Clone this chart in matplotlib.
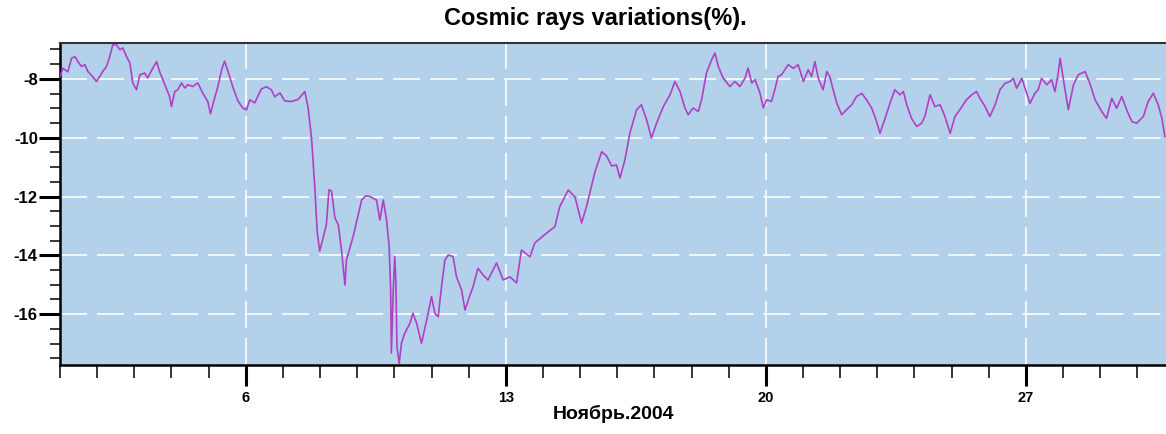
import matplotlib
matplotlib.use("Agg")
import matplotlib.pyplot as plt
from matplotlib.ticker import MultipleLocator

# Cosmic rays variations, November 2004 (day of month, percent)
days = [
    1.00, 1.08, 1.21, 1.31, 1.40, 1.48, 1.58, 1.67, 1.75, 1.88, 1.98, 2.07, 2.15, 2.25,
    2.34, 2.42, 2.52, 2.61, 2.69, 2.79, 2.88, 2.96, 3.06, 3.15, 3.28, 3.36, 3.50, 3.60,
    3.68, 3.77, 3.86, 3.95, 4.00, 4.09, 4.17, 4.27, 4.36, 4.44, 4.57, 4.71, 4.84, 4.98,
    5.05, 5.14, 5.25, 5.35, 5.43, 5.52, 5.66, 5.79, 5.92, 6.02, 6.11, 6.24, 6.42, 6.56,
    6.69, 6.78, 6.92, 7.05, 7.23, 7.41, 7.59, 7.68, 7.77, 7.80, 7.86, 7.92, 7.99, 8.08,
    8.17, 8.24, 8.31, 8.40, 8.49, 8.58, 8.67, 8.71, 8.89, 9.12, 9.23, 9.34, 9.52, 9.61,
    9.70, 9.79, 9.86, 9.90, 9.92, 9.97, 10.01, 10.04, 10.07, 10.13, 10.19, 10.28, 10.42,
    10.50, 10.60, 10.73, 10.87, 11.00, 11.09, 11.18, 11.27, 11.36, 11.45, 11.58, 11.67,
    11.81, 11.90, 11.99, 12.12, 12.25, 12.39, 12.52, 12.75, 12.93, 13.11, 13.29, 13.42,
    13.65, 13.78, 14.10, 14.32, 14.45, 14.68, 14.86, 14.95, 15.04, 15.17, 15.40, 15.58,
    15.71, 15.85, 15.98, 16.07, 16.20, 16.34, 16.52, 16.65, 16.79, 16.92, 17.06, 17.24,
    17.42, 17.55, 17.69, 17.82, 17.91, 18.04, 18.18, 18.27, 18.40, 18.54, 18.63, 18.72,
    18.85, 19.03, 19.17, 19.30, 19.44, 19.52, 19.62, 19.71, 19.84, 19.93, 20.02, 20.15,
    20.24, 20.33, 20.42, 20.60, 20.74, 20.87, 21.01, 21.14, 21.23, 21.32, 21.41, 21.54,
    21.64, 21.72, 21.81, 21.91, 22.04, 22.17, 22.31, 22.44, 22.58, 22.71, 22.85, 22.98,
    23.07, 23.21, 23.34, 23.47, 23.61, 23.70, 23.79, 23.92, 24.06, 24.19, 24.28, 24.42,
    24.55, 24.69, 24.82, 24.96, 25.09, 25.22, 25.40, 25.54, 25.67, 25.76, 25.90, 26.03,
    26.17, 26.30, 26.44, 26.57, 26.66, 26.75, 26.89, 27.02, 27.11, 27.24, 27.33, 27.42,
    27.56, 27.69, 27.78, 27.87, 27.92, 28.01, 28.14, 28.28, 28.41, 28.59, 28.72, 28.86,
    29.04, 29.17, 29.31, 29.44, 29.58, 29.71, 29.85, 29.98, 30.16, 30.29, 30.43, 30.56,
    30.66, 30.74,
]
variation = [
    -7.92, -7.64, -7.76, -7.30, -7.24, -7.41, -7.58, -7.52, -7.75, -7.92, -8.09, -7.92, -7.75, -7.58,
    -7.24, -6.84, -6.84, -7.01, -6.95, -7.24, -7.46, -8.14, -8.37, -7.86, -7.80, -7.97, -7.63, -7.41,
    -7.75, -8.03, -8.31, -8.60, -8.94, -8.43, -8.37, -8.14, -8.31, -8.20, -8.26, -8.14, -8.48, -8.78,
    -9.19, -8.75, -8.26, -7.69, -7.40, -7.73, -8.31, -8.75, -8.99, -9.05, -8.71, -8.82, -8.34, -8.27,
    -8.37, -8.61, -8.48, -8.75, -8.77, -8.70, -8.43, -8.99, -10.01, -10.59, -11.71, -13.17, -13.86, -13.41,
    -12.96, -11.77, -11.82, -12.73, -12.96, -13.86, -15.01, -14.16, -13.36, -12.12, -11.98, -12.00, -12.12, -12.80,
    -12.12, -12.80, -13.70, -15.18, -17.32, -15.18, -14.04, -14.84, -17.11, -17.68, -16.99, -16.65, -16.31,
    -15.97, -16.31, -16.99, -16.20, -15.40, -15.97, -16.09, -15.06, -14.16, -13.99, -14.04, -14.72,
    -15.18, -15.86, -15.52, -15.06, -14.44, -14.67, -14.84, -14.26, -14.84, -14.73, -14.94, -13.82,
    -14.05, -13.58, -13.24, -13.03, -12.35, -11.78, -12.01, -12.46, -12.90, -12.35, -11.16, -10.48,
    -10.62, -10.96, -10.93, -11.37, -10.79, -9.84, -9.05, -8.88, -9.39, -10.01, -9.50, -8.94,
    -8.54, -8.09, -8.43, -8.99, -9.22, -8.99, -9.11, -8.71, -7.80, -7.35, -7.12, -7.58,
    -7.97, -8.26, -8.09, -8.26, -7.97, -7.63, -8.14, -8.03, -8.48, -8.99, -8.71, -8.77,
    -8.37, -7.92, -7.86, -7.52, -7.64, -7.52, -8.09, -7.69, -7.92, -7.41, -7.98, -8.37,
    -7.75, -7.92, -8.37, -8.83, -9.22, -9.05, -8.88, -8.60, -8.49, -8.71, -9.00, -9.45,
    -9.85, -9.34, -8.83, -8.37, -8.54, -8.43, -8.88, -9.34, -9.62, -9.51, -9.28, -8.54,
    -8.94, -8.88, -9.28, -9.85, -9.28, -9.05, -8.71, -8.54, -8.43, -8.66, -8.94, -9.28,
    -8.88, -8.37, -8.15, -8.09, -7.98, -8.32, -7.98, -8.49, -8.83, -8.49, -8.37, -7.98,
    -8.20, -8.03, -8.43, -7.81, -7.30, -8.03, -9.05, -8.20, -7.86, -7.75, -8.15, -8.71,
    -9.11, -9.34, -8.66, -9.00, -8.60, -9.05, -9.45, -9.51, -9.28, -8.77, -8.49, -8.88,
    -9.34, -9.96,
]
x_major = [6, 13, 20, 27]
y_major = [-8, -10, -12, -14, -16]

plt.rcParams['font.family'] = ['Liberation Sans', 'DejaVu Sans']
plt.rcParams['axes.unicode_minus'] = False

W, H = 1166, 434
fig = plt.figure(figsize=(W / 100, H / 100), dpi=100)
ax = fig.add_axes([60 / W, 1 - 365 / H, 1 - 60 / W, (365 - 43) / H])
ax.set_facecolor('#b3d1ea')

ax.plot(days, variation, color='#b040c4', lw=1.2, zorder=3)

ax.set_xlim(1, 30.77)
ax.set_ylim(-17.73, -6.78)

ax.set_xticks(x_major, labels=[str(d) for d in x_major], fontweight='bold', fontsize=10.5)
ax.set_yticks(y_major, labels=[str(v) for v in y_major], fontweight='bold', fontsize=12)
ax.xaxis.set_minor_locator(MultipleLocator(1))
ax.yaxis.set_minor_locator(MultipleLocator(0.5))

ax.tick_params(which='major', direction='out', length=15, width=2.2, color='black')
ax.tick_params(axis='x', which='major', pad=4)
ax.tick_params(axis='y', which='major', pad=1)
ax.tick_params(axis='x', which='minor', direction='out', length=9, width=1.1)
ax.tick_params(axis='y', which='minor', direction='out', length=7, width=1.1)

ax.grid(which='major', color='white', lw=1.3, alpha=0.9, ls=(0, (15, 5.5)), zorder=1)
ax.set_axisbelow(True)

for side in ['left', 'bottom']:
    ax.spines[side].set_linewidth(1.8)
    ax.spines[side].set_color('black')
ax.spines['top'].set_linewidth(1.5)
ax.spines['top'].set_color('#333333')
ax.spines['right'].set_visible(False)

fig.text(595 / W, 1 - 18 / H, 'Cosmic rays variations(%).', ha='center', va='center',
         fontsize=17, fontweight='bold')
fig.text(614 / W, 1 - 414 / H, 'Ноябрь.2004', ha='center', va='center', fontsize=14, fontweight='bold')

fig.savefig('out.png', dpi=100)
